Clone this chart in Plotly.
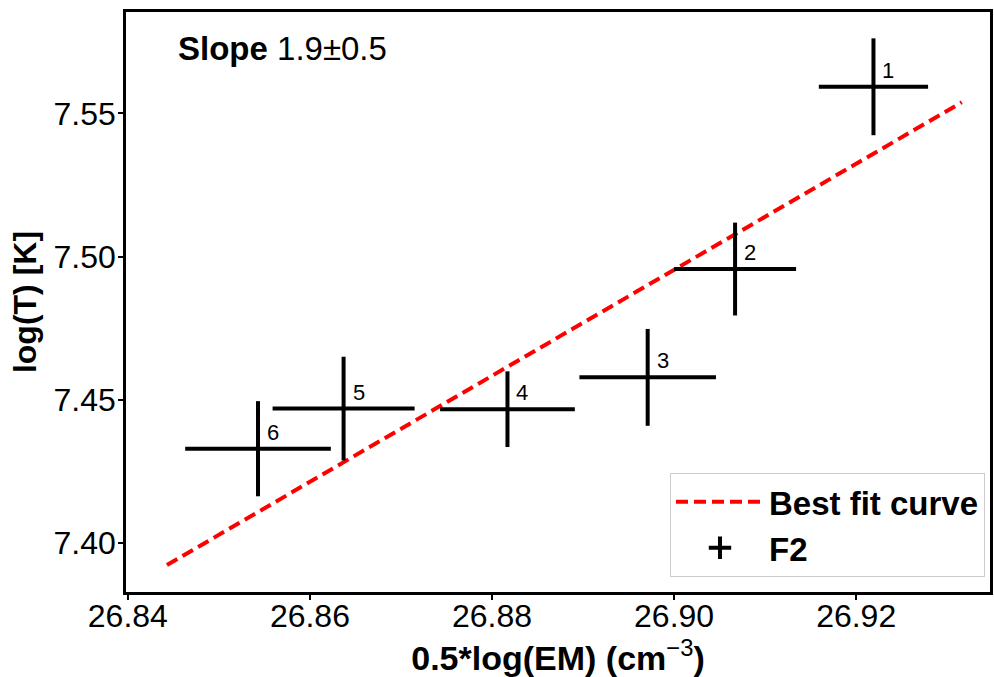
import plotly.graph_objects as go

# Data
labels = ["1", "2", "3", "4", "5", "6"]
x_vals = [26.9219, 26.9067, 26.8971, 26.8817, 26.8637, 26.8543]
y_vals = [7.5593, 7.4957, 7.4579, 7.4468, 7.4470, 7.4330]
x_err = [0.0060, 0.0067, 0.0075, 0.0074, 0.0078, 0.0080]
y_err = [0.0169, 0.0162, 0.0169, 0.0132, 0.0181, 0.0166]

fit_x = [26.8443, 26.9316]
fit_y = [7.3924, 7.5539]

x_ticks = [26.84, 26.86, 26.88, 26.90, 26.92]
x_ticklabels = ["26.84", "26.86", "26.88", "26.90", "26.92"]
y_ticks = [7.40, 7.45, 7.50, 7.55]
y_ticklabels = ["7.40", "7.45", "7.50", "7.55"]

FONT = "Liberation Sans, Arial, Helvetica, sans-serif"

fig = go.Figure()

fig.add_trace(go.Scatter(
    x=fit_x, y=fit_y, mode="lines", name="<b>Best fit curve</b>",
    line=dict(color="red", width=4, dash="12px,6px"),
))

fig.add_trace(go.Scatter(
    x=x_vals, y=y_vals, mode="markers", showlegend=False,
    marker=dict(size=1, color="black", opacity=0),
    error_x=dict(type="data", array=x_err, color="black", thickness=4, width=0),
    error_y=dict(type="data", array=y_err, color="black", thickness=4, width=0),
    hoverinfo="skip",
))

# legend-only entry for F2
fig.add_trace(go.Scatter(
    x=[None], y=[None], mode="markers", name="<b>F2</b>",
    marker=dict(symbol="cross-thin-open", size=36, color="black",
                line=dict(color="black", width=4)),
))

for lab, xv, yv in zip(labels, x_vals, y_vals):
    fig.add_annotation(
        x=xv, y=yv, text=lab, showarrow=False,
        xanchor="left", yanchor="bottom", xshift=7, yshift=2,
        font=dict(size=22, color="black", family=FONT),
    )

fig.add_annotation(
    xref="paper", yref="paper", x=0.0577, y=0.972,
    xanchor="left", yanchor="top", showarrow=False,
    text="<b>Slope</b> 1.9±0.5",
    font=dict(size=33, color="black", family=FONT),
)

axis_common = dict(
    showline=True, linecolor="black", linewidth=2.5, mirror=True,
    ticks="outside", ticklen=5, tickwidth=1.5, tickcolor="black",
    showgrid=False, zeroline=False,
    tickfont=dict(size=32, color="black", family=FONT),
)

fig.update_xaxes(
    range=[26.8398, 26.9347], tickvals=x_ticks, ticktext=x_ticklabels,
    ticklabelstandoff=-11,
    title=dict(text="<b>0.5*log(EM) (cm</b><sup>−3</sup><b>)</b>",
               font=dict(size=34, color="black", family=FONT), standoff=15),
    **axis_common,
)
fig.update_yaxes(
    range=[7.3830, 7.5854], tickvals=y_ticks, ticktext=y_ticklabels,
    ticklabelstandoff=-4,
    title=dict(text="<b>log(T) [K]</b>",
               font=dict(size=32, color="black", family=FONT), standoff=8),
    **axis_common,
)

fig.update_layout(
    width=994, height=677,
    margin=dict(l=126, r=1, t=12, b=85),
    paper_bgcolor="white", plot_bgcolor="white",
    font=dict(family=FONT, color="black"),
    legend=dict(
        x=0.9942, y=0.026, xanchor="right", yanchor="bottom",
        bgcolor="white", bordercolor="#cccccc", borderwidth=1,
        font=dict(size=33, color="black", family=FONT),
        itemwidth=88,
    ),
)

fig.write_html("out.html")
